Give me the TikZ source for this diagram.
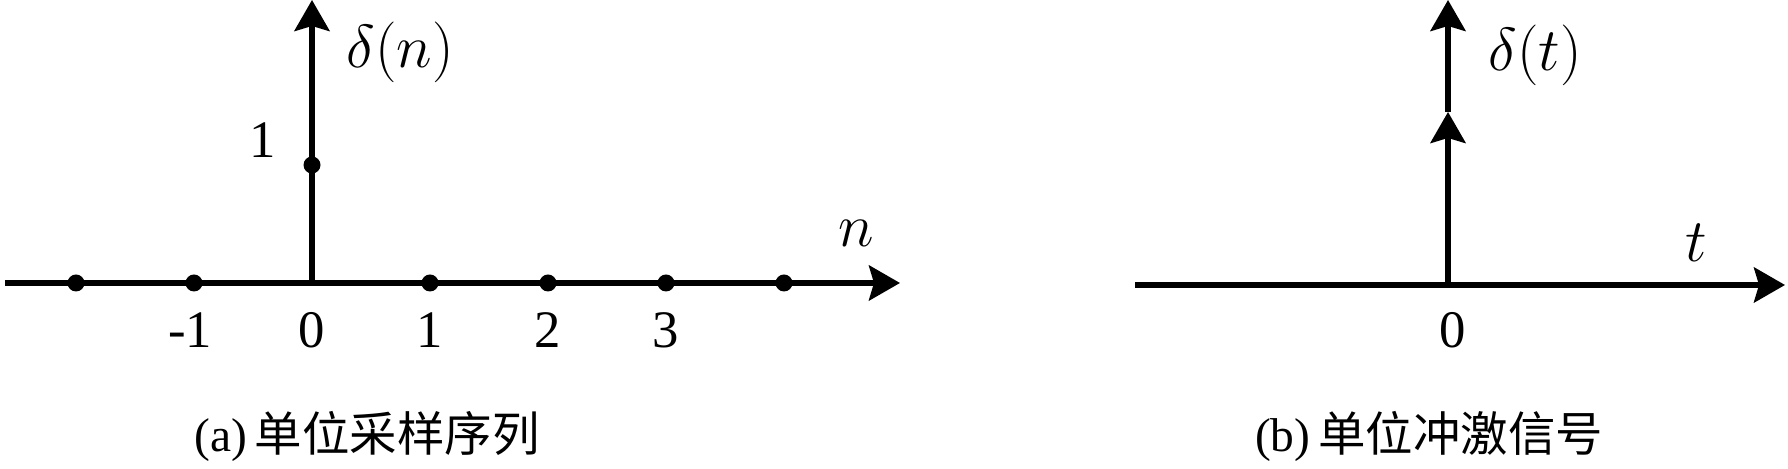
\documentclass[tikz,border=0pt]{standalone}
\usepackage{fontspec}
\setmainfont{Liberation Serif}
\newfontfamily\cjk{Noto Sans CJK SC}
\usetikzlibrary{arrows.meta,positioning}

\tikzset{
  axis/.style={line width=1.6pt, -{Stealth[length=3.1mm,width=3.5mm,inset=0.5mm]}},
  sample/.style={circle, fill, inner sep=0pt, minimum size=1.7mm},
  lbl/.style={font=\fontsize{15}{17}\selectfont, inner sep=1pt},
  mlbl/.style={font=\fontsize{17}{19}\selectfont, inner sep=1pt},
  caption/.style={font=\fontsize{13.5}{16}\selectfont, inner sep=1pt},
}

\begin{document}
\begin{tikzpicture}
  \useasboundingbox (0,0) rectangle (17.88,4.69);

  % (a) unit sample sequence
  \coordinate (aL) at (0.05,1.86);
  \coordinate (aR) at (9.00,1.86);
  \coordinate (aO) at (3.12,1.86);
  \coordinate (aT) at (3.12,4.69);
  \draw[axis] (aL) -- (aR);
  \draw[axis] (aO) -- (aT);
  \foreach \k [count=\i] in {-2,-1,1,2,3,4}
    \node[sample] (s\i) at ({3.12+1.18*\k},1.86) {};
  \node[sample] (peak) at (3.12,3.04) {};
  \node[lbl] (one) at (2.63,3.29) {1};
  \node[mlbl] (dn) at (4.00,4.17) {$\delta(n)$};
  \node[mlbl] (nlab) at (8.56,2.36) {$n$};
  \foreach \t/\x in {-1/1.90, 0/3.12, 1/4.30, 2/5.48, 3/6.66}
    \node[lbl] (tick\t) at (\x,1.39) {\t};
  \node[caption] (capa) at (3.67,0.33) {(a)\,{\cjk 单位采样序列}};

  % (b) unit impulse signal
  \coordinate (bL) at (11.35,1.84);
  \coordinate (bR) at (17.85,1.84);
  \coordinate (bO) at (14.48,1.84);
  \coordinate (bM) at (14.48,3.57);
  \coordinate (bT) at (14.48,4.69);
  \draw[axis] (bL) -- (bR);
  \draw[axis] (bO) -- (bM);
  \draw[axis] (bM) -- (bT);
  \node[mlbl] (dt) at (15.35,4.14) {$\delta(t)$};
  \node[mlbl] (tlab) at (16.96,2.26) {$t$};
  \node[lbl] (zero) at (14.53,1.39) {0};
  \node[caption] (capb) at (14.29,0.33) {(b)\,{\cjk 单位冲激信号}};
\end{tikzpicture}
\end{document}
